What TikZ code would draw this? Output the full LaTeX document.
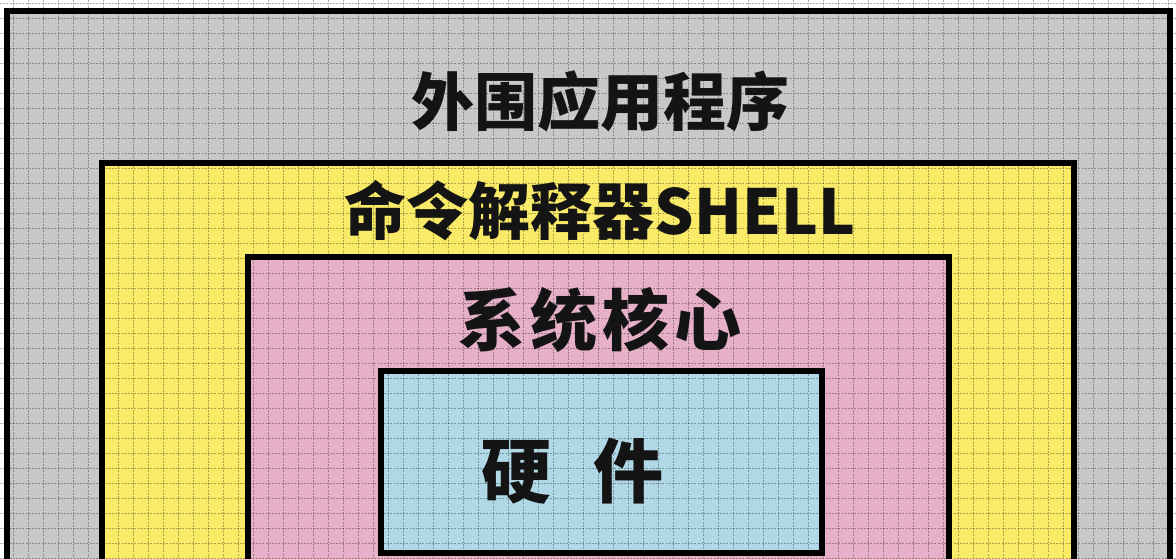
\documentclass[tikz,border=0pt]{standalone}
\usepackage{fontspec}
\newfontfamily\cjk{Noto Sans CJK SC}
\definecolor{outergray}{RGB}{200,200,200}
\definecolor{shellyellow}{RGB}{249,235,104}
\definecolor{kernelpink}{RGB}{230,176,200}
\definecolor{hwblue}{RGB}{176,216,230}
\tikzset{
  layer/.style={draw=black, line width=6pt},
  gridline/.style={draw=black, opacity=0.3, line width=0.7pt, dash pattern=on 2pt off 1.2pt},
  label/.style={font=\cjk\bfseries, text=black!92, inner sep=0pt, anchor=center}
}
\begin{document}
\begin{tikzpicture}[x=1pt,y=-1pt]
\useasboundingbox (0,0) rectangle (1176,558);
\begin{scope}
\clip (0,0) rectangle (1176,558);
\fill[white] (0,0) rectangle (1176,558);
\fill[outergray] (7,11) rectangle (1170,600);
\fill[shellyellow] (102,163) rectangle (1074,600);
\fill[kernelpink] (248,257) rectangle (949,600);
\fill[hwblue] (381,371) rectangle (822,553);
\foreach \gx in {0,...,78} {\draw[gridline] (13+15*\gx,0) -- (13+15*\gx,558);}
\foreach \gy in {0,...,37} {\draw[gridline] (0,3+15*\gy) -- (1176,3+15*\gy);}
\draw[layer] (7,620) -- (7,11) -- (1170,11) -- (1170,620);
\draw[layer] (102,620) -- (102,163) -- (1074,163) -- (1074,620);
\draw[layer] (248,620) -- (248,257) -- (949,257) -- (949,620);
\draw[layer] (381,371) rectangle (822,553);
\end{scope}
\node[label, font=\cjk\bfseries\fontsize{63}{63}\selectfont] (app) at (600,101) {外围应用程序};
\node[label, font=\cjk\bfseries\fontsize{62}{62}\selectfont] (shell) at (600,211) {命令解释器SHELL};
\node[label, font=\cjk\bfseries\fontsize{67}{67}\selectfont] (kernel) at (600,320) {系\hspace{5pt}统\hspace{5pt}核\hspace{5pt}心};
\node[label, font=\cjk\bfseries\fontsize{70}{70}\selectfont] (hw) at (572,471) {硬\hspace{42pt}件};
\end{tikzpicture}
\end{document}
